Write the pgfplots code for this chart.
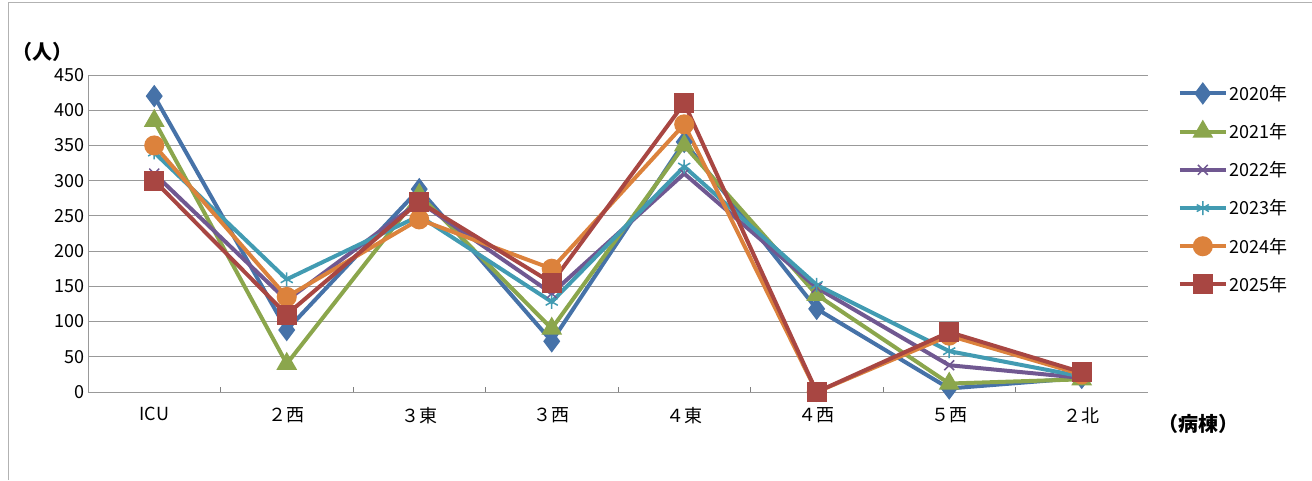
\documentclass[border=0pt]{standalone}
\usepackage{pgfplots}
\pgfplotsset{compat=1.18}
\usepackage{fontspec}
\setmainfont{Noto Sans CJK JP}
\begin{document}
\begin{tikzpicture}
\useasboundingbox (0pt,0pt) rectangle (1312pt,480pt);
\draw[gray!60] (8pt,0pt) -- (8pt,478pt) -- (1312pt,478pt);
\begin{axis}[at={(88pt,88pt)},anchor=south west,scale only axis,width=1060pt,height=317pt,
 xmin=-0.5,xmax=7.5,ymin=0,ymax=450,ytick={0,50,...,450},
 xtick={0,...,7},xticklabels={ICU,２西,３東,３西,４東,４西,５西,２北},
 major x tick style={draw=none},
 minor xtick={0.5,1.5,...,6.5}, minor tick length=5pt,
 ymajorgrids, grid style={gray!80,line width=1pt}, axis line style={gray!80,line width=1pt},
 axis x line*=bottom, axis y line*=left,
 ytick style={draw=none},
 tick label style={font=\fontsize{18}{18}\selectfont},
 /pgf/number format/assume math mode=true,
 xticklabel style={yshift=-12pt},
 legend style={at={(1.028,0.975)},anchor=north west,draw=none,font=\fontsize{18}{18}\selectfont,row sep=17.5pt,inner sep=0pt},
 legend cell align=left,
 legend image code/.code={\draw[#1] (0pt,0pt) -- (46pt,0pt); \draw[#1] plot coordinates {(23pt,0pt)};},
 every axis plot/.append style={line width=4pt},
 clip=false]
\addplot[color={rgb,255:red,70;green,114;blue,168},mark=diamond*,mark size=8pt] coordinates {(0,420)(1,88)(2,288)(3,72)(4,355)(5,118)(6,5)(7,20)};
\addplot[color={rgb,255:red,139;green,166;blue,76},mark=triangle*,mark size=8pt] coordinates {(0,385)(1,40)(2,280)(3,90)(4,350)(5,138)(6,12)(7,18)};
\addplot[color={rgb,255:red,112;green,88;blue,145},mark=x,mark size=7pt,mark options={line width=1.5pt}] coordinates {(0,310)(1,130)(2,270)(3,140)(4,310)(5,148)(6,38)(7,20)};
\addplot[color={rgb,255:red,66;green,155;blue,178},mark=asterisk,mark size=7pt,mark options={line width=1.5pt}] coordinates {(0,340)(1,160)(2,250)(3,128)(4,320)(5,152)(6,58)(7,22)};
\addplot[color={rgb,255:red,220;green,130;blue,60},mark=*,mark size=8pt] coordinates {(0,350)(1,135)(2,245)(3,175)(4,380)(5,0)(6,80)(7,25)};
\addplot[color={rgb,255:red,168;green,70;blue,66},mark=square*,mark size=8pt] coordinates {(0,300)(1,110)(2,270)(3,155)(4,410)(5,0)(6,85)(7,28)};
\legend{2020年,2021年,2022年,2023年,2024年,2025年}
\node[anchor=south west,font=\fontsize{20}{20}\selectfont\bfseries] at (rel axis cs:-0.075,1.03) {（人）};
\node[anchor=west,font=\fontsize{20}{20}\selectfont\bfseries] at (axis cs:7.55,-45) {（病棟）};
\end{axis}
\end{tikzpicture}
\end{document}
